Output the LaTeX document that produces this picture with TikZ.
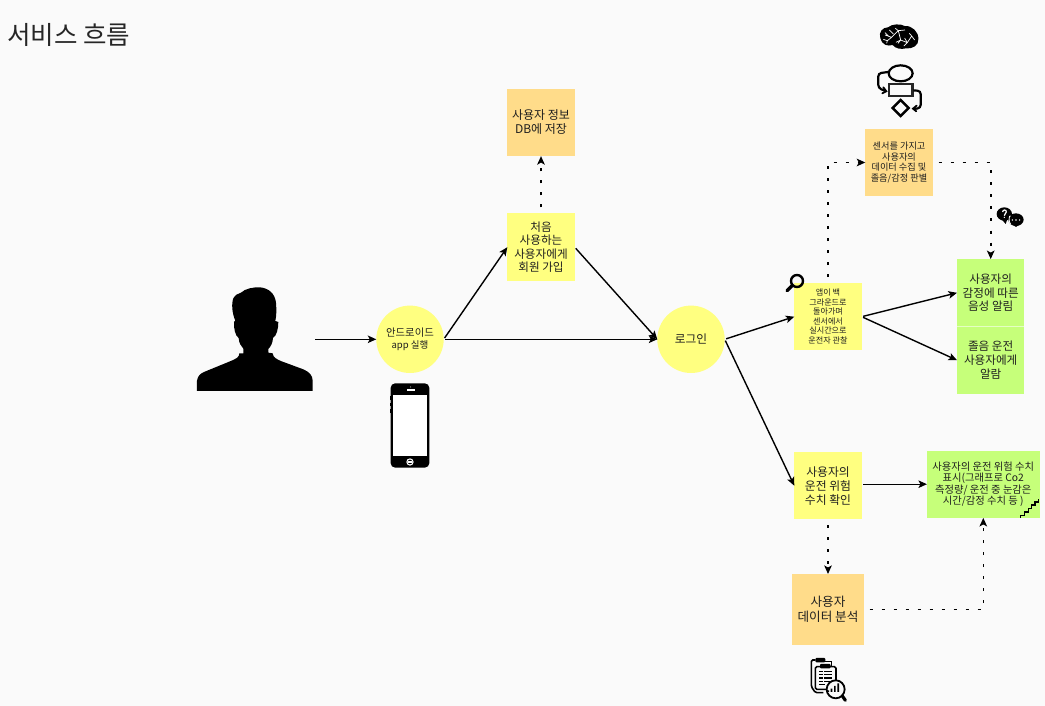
\documentclass[tikz,border=0pt]{standalone}
\usepackage{fontspec}
\setmainfont{Noto Sans CJK KR}
\usetikzlibrary{arrows.meta}
\definecolor{pagebg}{HTML}{FAFAFA}
\definecolor{noteyellow}{HTML}{FFFF80}
\definecolor{noteorange}{HTML}{FFDC8A}
\definecolor{notegreen}{HTML}{C6FF7A}
\newcommand{\fs}[2]{\fontsize{#1}{#2}\selectfont}
\tikzset{
  note/.style={inner sep=0pt,outer sep=0pt,align=center,text=black!88,minimum width=67.4,minimum height=67.4},
  round note/.style={note,circle,fill=noteyellow},
  flow/.style={draw=black,line width=1.4,-{Stealth[length=8.5,width=7.5,inset=2]}},
  dots/.style={flow,line width=1.6,dash pattern=on 3 off 9,shorten <=6},
}
\begin{document}
\begin{tikzpicture}[x=1pt,y=-1pt]
\useasboundingbox[fill=pagebg] (0,0) rectangle (1045,706);

\node[anchor=west,inner sep=0pt,text=black!85,font={\fs{25.5}{28}}] (title) at (7,35) {서비스 흐름};

% notes
\node[note,fill=noteorange,font={\fs{12}{14}}] (db) at (541,122.4) {사용자 정보\\DB에 저장};
\node[note,fill=noteyellow,font={\fs{11.6}{13.4}}] (signup) at (541,247.2) {처음\\사용하는\\사용자에게\\회원 가입};
\node[round note,font={\fs{10.4}{12.5}}] (app) at (410,339.3) {안드로이드\\{\fs{9.5}{12.5}app 실행}};
\node[round note,font={\fs{11.7}{14}}] (login) at (691,339.3) {로그인};
\node[note,fill=noteorange,font={\fs{9.2}{10.7}}] (sensor) at (899,162.5) {센서를 가지고\\사용자의\\데이터 수집 및\\졸음/감정 판별};
\node[note,fill=noteyellow,font={\fs{8.1}{9.5}}] (bgwatch) at (828,316.7) {앱이 백\\그라운드로\\돌아가며\\센서에서\\실시간으로\\운전자 관찰};
\node[note,fill=notegreen,font={\fs{11.6}{13.4}}] (emotion) at (990.7,292.8) {사용자의\\감정에 따른\\음성 알림};
\node[note,fill=notegreen,font={\fs{11.6}{13.8}}] (drowsy) at (990.7,360.2) {졸음 운전\\사용자에게\\알람};
\node[note,fill=noteyellow,font={\fs{11.8}{14}}] (risk) at (828,485.7) {사용자의\\운전 위험\\수치 확인};
\node[note,fill=notegreen,minimum width=112.7,font={\fs{10.3}{11.6}}] (riskshow) at (983.3,484.2) {사용자의 운전 위험 수치\\표시(그래프로 Co2\\측정량/ 운전 중 눈감은\\시간/감정 수치 등 )};
\node[note,fill=noteorange,minimum width=71.4,minimum height=71,font={\fs{12.6}{15}}] (analysis) at (828,609.5) {사용자\\데이터 분석};

\coordinate (userout) at (315,339.3);
\draw[notegreen!45!white,line width=0.5] (emotion.south west) -- (emotion.south east);

% connectors
\draw[flow] (userout) -- (app.west);
\draw[flow,shorten <=1.5] (app.east) -- (signup.west);
\draw[flow,shorten <=1.5] (app.east) -- (login.west);
\draw[flow,shorten <=1.5] (signup.east) -- (login.west);
\draw[flow,shorten <=1.5] (login.east) -- (bgwatch.west);
\draw[flow,shorten <=1.5] (login.east) -- (risk.west);
\draw[flow,shorten <=1.5] (bgwatch.east) -- (emotion.west);
\draw[flow,shorten <=1.5] (bgwatch.east) -- (drowsy.west);
\draw[flow,shorten <=1.5] (risk.east |- riskshow.west) -- (riskshow.west);
\draw[dots] (signup.north) -- (db.south);
\draw[dots] (bgwatch.north) |- (sensor.west);
\draw[dots] (sensor.east) -| (emotion.north);
\draw[dots] (risk.south) -- (analysis.north);
\draw[dots] (analysis.east) -| (riskshow.south);

% person silhouette
\begin{scope}[shift={(180,270)},x=0.3333pt,y=-0.3333pt]
\fill[black] (51,363) -- (51,332) .. controls (53,318) and (62,310) .. (72,306)
 -- (155,272) .. controls (168,266) and (178,262) .. (178,250) -- (190,250) -- (190,236)
 .. controls (182,228) and (177,218) .. (176,204) .. controls (166,198) and (161,176) .. (162,156)
 -- (166,152) .. controls (156,130) and (154,100) .. (160,85) .. controls (165,75) and (175,70) .. (183,68)
 .. controls (195,56) and (220,51) .. (240,52) .. controls (265,54) and (285,70) .. (288,98)
 .. controls (290,120) and (289,140) .. (286,153) -- (295,156) .. controls (295,176) and (290,198) .. (279,204)
 .. controls (278,220) and (272,230) .. (265,237) -- (265,248) -- (278,250) .. controls (279,262) and (290,268) .. (305,274)
 -- (370,298) .. controls (388,306) and (398,316) .. (398,332) -- (398,363) -- cycle;
% phone
\fill[black,rounded corners=4.5] (632,340) rectangle (748,593);
\fill[white] (638,375) rectangle (742,558);
\fill[white] (681,358) rectangle (704,364);
\fill[white] (692,351) circle (1.5);
\fill[white] (690,576) circle (11);
\fill[black] (690,576) circle (7);
\fill[white] (684,572) rectangle (696,580);
\fill[black] (630,378) rectangle (633,390);
\fill[black] (630,398) rectangle (633,408);
\fill[black] (630,416) rectangle (633,428);
\end{scope}

% brain and flowchart icon
\begin{scope}[shift={(770,10)},x=0.3333pt,y=-0.3333pt]
\fill[black] (331,85) .. controls (325,66) and (338,52) .. (354,52) .. controls (366,41) and (392,41) .. (404,48)
 .. controls (426,46) and (447,66) .. (445,88) .. controls (447,106) and (426,118) .. (408,115)
 .. controls (394,119) and (376,116) .. (368,105) .. controls (352,110) and (336,104) .. (331,85) -- cycle;
\draw[white,line width=0.7] (345,75) -- (365,82) -- (385,62) -- (405,60) (365,82) -- (352,92) (358,60) -- (370,72)
 (385,62) -- (392,90) -- (412,98) -- (425,78) (412,98) -- (402,108) (392,90) -- (378,97) (425,78) -- (434,90) (418,70) -- (425,78)
 (345,68) -- (355,78) (376,55) -- (385,62) (404,84) -- (412,98) (340,88) -- (352,92) (352,92) -- (350,100) (384,100) -- (392,90);
\draw[black,line width=2.2] (392,190) ellipse (36 and 24);
\draw[black!85,line width=2.4] (357,222) rectangle (427,258);
\draw[black,line width=2.4] (392,270) -- (416,294) -- (392,318) -- (368,294) -- cycle;
\draw[black,line width=2.2,rounded corners=3] (354,186) -- (325,190) -- (325,234) -- (346,243);
\draw[black,line width=2.2,rounded corners=3] (430,241) -- (452,243) -- (452,294) -- (432,297);
\draw[black,line width=1.8,line cap=round] (340,232) -- (349,244) -- (337,250);
\draw[black,line width=1.8,line cap=round] (440,287) -- (429,296) -- (439,304);
\end{scope}

% magnifier and speech bubbles
\begin{scope}[shift={(770,200)},x=0.3333pt,y=-0.3333pt]
\draw[black,line width=2.4] (81,243) circle (18);
\draw[black,line width=3.4,line cap=round] (66,257) -- (51,272);
\fill[black] (703,42) ellipse (23 and 20);
\fill[black] (695,58) -- (707,72) -- (712,58) -- cycle;
\fill[black] (738,59) ellipse (23 and 19);
\fill[black] (730,75) -- (738,81) -- (746,75) -- cycle;
\draw[pagebg,line width=0.8] (722,48) .. controls (716,42) and (716,70) .. (722,72);
\draw[white,line width=1.2] (698,36) .. controls (698,28) and (710,28) .. (709,36) .. controls (708,41) and (703,42) .. (703,47);
\fill[white] (703,52) circle (2.2);
\fill[white] (727,60) circle (2.4) (738,60) circle (2.4) (749,60) circle (2.4);
\end{scope}

% stairs and report icon
\begin{scope}[shift={(770,430)},x=0.3333pt,y=-0.3333pt]
\draw[black,line width=1.2] (752,263) -- (752,256) -- (764,256) -- (764,246) -- (775,246) -- (775,236) -- (785,236) -- (785,225) -- (795,225) -- (795,216) -- (805,216) -- (805,208);
% clipboard report
\draw[black,line width=1.6,rounded corners=1.5] (136,690) -- (124,690) -- (124,770) -- (136,788) -- (160,788);
\draw[black,line width=1.3] (165,694) -- (184,694) -- (184,708);
\fill[black,rounded corners=1] (136,684) rectangle (166,697);
\draw[black,line width=1.6,rounded corners=1.5] (136,710) rectangle (198,778);
\fill[black,rounded corners=1] (150,702) rectangle (182,715);
\foreach \yy in {724,734,744,754}{\draw[black,line width=1.1] (148,\yy) -- (158,\yy) (162,\yy) -- (187,\yy);}
\draw[black,line width=1.1] (148,764) -- (166,764);
\fill[pagebg] (197,778) circle (27);
\draw[black,line width=1.8] (197,778) circle (27);
\draw[black,line width=3.2,line cap=round] (217,798) -- (226,811);
\fill[black] (172,781) rectangle (177,786) (182,776) rectangle (187,786) (192,768) rectangle (197,786) (202,760) rectangle (207,786);
\end{scope}
\end{tikzpicture}
\end{document}
